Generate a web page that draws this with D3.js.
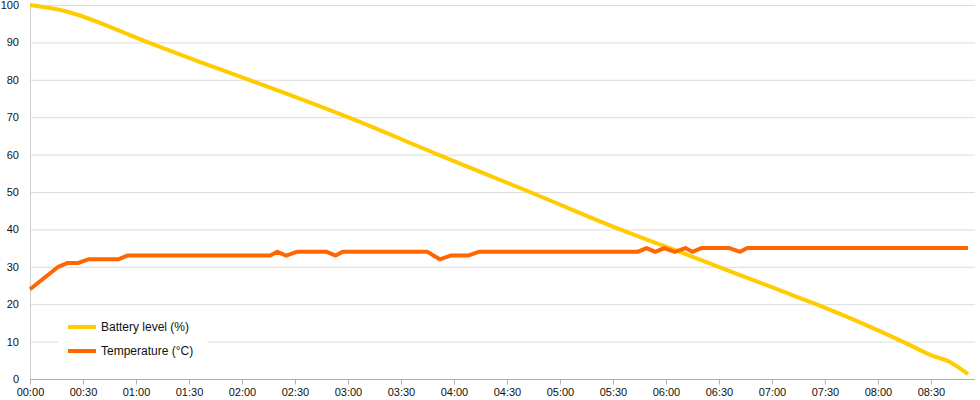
<!DOCTYPE html>
<html>
<head>
<meta charset="utf-8">
<script src="https://cdn.jsdelivr.net/npm/d3@7"></script>
<style>
  body { margin: 0; background: #fff; }
  text { font-family: "Liberation Sans", Arial, sans-serif; }
</style>
</head>
<body>
<div id="chart"></div>
<script>
// Battery level (%), time as HH:MM
const batteryTimes  = ["00:00","00:16","01:08","01:36","02:04","03:00","03:51","04:43","05:34","06:05","07:04","07:25","08:14","08:30","08:41","08:51"];
const batteryValues = [100, 98.8, 89.8, 84.8, 80, 70, 60, 50, 40, 34.5, 23.8, 20, 10, 6.4, 4.5, 1.3];

// Temperature (°C)
const tempTimes  = ["00:00","00:16","00:21","00:27","00:33","00:50","00:55","02:16","02:20","02:25","02:31","02:48","02:53","02:57","03:45","03:52","03:58","04:08","04:14","05:44","05:49","05:54","05:59","06:05","06:11","06:15","06:20","06:36","06:42","06:46","08:51"];
const tempValues = [24, 30, 31, 31, 32, 32, 33, 33, 34, 33, 34, 34, 33, 34, 34, 32, 33, 33, 34, 34, 35, 34, 35, 34, 35, 34, 35, 35, 34, 35, 35];

const yTicks = [0, 10, 20, 30, 40, 50, 60, 70, 80, 90, 100];
const seriesNames = ["Battery level (%)", "Temperature (°C)"];
const seriesColors = ["#ffcc00", "#ff6600"];

const width = 980, height = 400;
const margin = { top: 5, right: 12, bottom: 21, left: 30 };

const parse = d3.timeParse("%H:%M");
const battery = batteryTimes.map((t, i) => ({ t: parse(t), v: batteryValues[i] }));
const temp = tempTimes.map((t, i) => ({ t: parse(t), v: tempValues[i] }));

const svg = d3.select("#chart").append("svg")
    .attr("width", width)
    .attr("height", height);

const x = d3.scaleTime()
    .domain([parse("00:00"), parse("08:51")])
    .range([margin.left, width - margin.right]);

const y = d3.scaleLinear()
    .domain([0, 100])
    .range([height - margin.bottom, margin.top]);

// gridlines
svg.append("g")
    .selectAll("line")
    .data(yTicks.filter(d => d > 0))
    .enter().append("line")
    .attr("x1", margin.left)
    .attr("x2", width - margin.right + 7)
    .attr("y1", d => y(d) + 0.5)
    .attr("y2", d => y(d) + 0.5)
    .style("stroke", "#dcdcdc")
    .style("stroke-width", 1);

// y labels
svg.append("g")
    .selectAll("text")
    .data(yTicks)
    .enter().append("text")
    .attr("x", 19)
    .attr("y", d => y(d) + 4)
    .attr("text-anchor", "end")
    .style("font-size", "11px")
    .style("fill", "#111")
    .text(d => d);

// y axis line
svg.append("line")
    .attr("x1", margin.left + 0.5)
    .attr("x2", margin.left + 0.5)
    .attr("y1", margin.top)
    .attr("y2", y(0))
    .style("stroke", "#cfcfcf");

// x axis
const xAxis = svg.append("g")
    .attr("transform", "translate(0," + (y(0) + 0.5) + ")")
    .call(d3.axisBottom(x)
        .ticks(d3.timeMinute.every(30))
        .tickFormat(d3.timeFormat("%H:%M"))
        .tickSizeInner(5)
        .tickSizeOuter(0));
xAxis.select(".domain").style("stroke", "#b0b0b0").attr("d", "M" + margin.left + ",0H" + (width - margin.right + 7));
xAxis.selectAll(".tick line").style("stroke", "#b0b0b0");
xAxis.selectAll(".tick text")
    .attr("y", 9)
    .style("font-family", "'Liberation Sans', Arial, sans-serif")
    .style("font-size", "11px")
    .style("fill", "#111");

const line = d3.line()
    .x(d => x(d.t))
    .y(d => y(d.v));

svg.append("path")
    .datum(battery)
    .attr("d", line.curve(d3.curveMonotoneX))
    .style("fill", "none")
    .style("stroke", seriesColors[0])
    .style("stroke-width", 4)
    .style("stroke-linejoin", "round");

svg.append("path")
    .datum(temp)
    .attr("d", line.curve(d3.curveLinear))
    .style("fill", "none")
    .style("stroke", seriesColors[1])
    .style("stroke-width", 4)
    .style("stroke-linejoin", "round");

// legend
const legend = svg.append("g").attr("transform", "translate(58, 314)");
legend.append("rect")
    .attr("width", 150)
    .attr("height", 50)
    .style("fill", "#fff");

seriesNames.forEach((name, i) => {
    const yy = 13 + i * 24;
    legend.append("line")
        .attr("x1", 10).attr("x2", 38)
        .attr("y1", yy).attr("y2", yy)
        .style("stroke", seriesColors[i])
        .style("stroke-width", 4);
    legend.append("text")
        .attr("x", 43)
        .attr("y", yy + 4)
        .style("font-size", "12px")
        .style("fill", "#111")
        .text(name);
});
</script>
</body>
</html>
